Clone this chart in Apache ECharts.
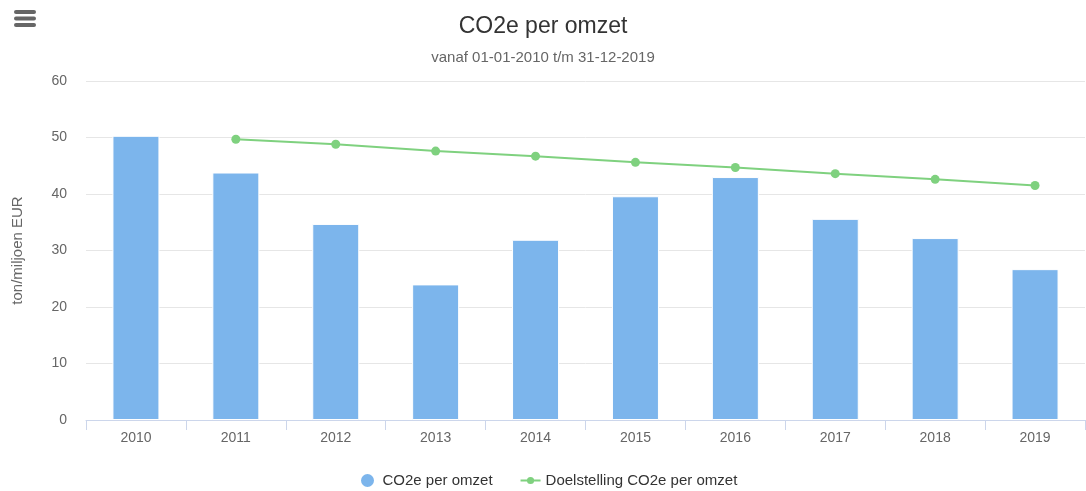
<!DOCTYPE html>
<html>
<head>
<meta charset="utf-8">
<script src="https://cdn.jsdelivr.net/npm/echarts@6/dist/echarts.min.js"></script>
<style>
html,body{margin:0;padding:0;background:#fff;}
#c{width:1086px;height:491px;}
</style>
</head>
<body>
<div id="c"></div>
<script>
const categories = ['2010','2011','2012','2013','2014','2015','2016','2017','2018','2019'];
const co2Values = [50.3, 43.8, 34.7, 24.0, 31.9, 39.6, 43.0, 35.6, 32.2, 26.7];
const targetValues = [null, 49.7, 48.8, 47.6, 46.7, 45.6, 44.7, 43.6, 42.6, 41.5];
const yTicks = [0, 10, 20, 30, 40, 50, 60];

const font = '"Liberation Sans", Arial, sans-serif';
const lineIcon = 'path://M0,0 L0.02,0 L0.02,0.02 Z M20,15 L19.98,15 L19.98,14.98 Z M0,6.6 L20,6.6 L20,8.4 L0,8.4 Z M6.4,7.5 A3.6,3.6 0 1,1 13.6,7.5 A3.6,3.6 0 1,1 6.4,7.5 Z';
const chart = echarts.init(document.getElementById('c'), null, {renderer: 'canvas'});
chart.setOption({
  animation: false,
  textStyle: {fontFamily: font},
  title: {
    text: 'CO2e per omzet',
    subtext: 'vanaf 01-01-2010 t/m 31-12-2019',
    left: 'center',
    top: 10,
    itemGap: 12,
    textStyle: {fontFamily: font, fontSize: 23, fontWeight: 'normal', color: '#333'},
    subtextStyle: {fontFamily: font, fontSize: 15, color: '#666'}
  },
  graphic: [
    {type: 'rect', left: 14, top: 10, shape: {width: 22, height: 4, r: 2}, style: {fill: '#666'}},
    {type: 'rect', left: 14, top: 16.5, shape: {width: 22, height: 4, r: 2}, style: {fill: '#666'}},
    {type: 'rect', left: 14, top: 23, shape: {width: 22, height: 4, r: 2}, style: {fill: '#666'}}
  ],
  legend: {
    top: 472,
    left: 359,
    itemGap: 28,
    itemWidth: 20,
    itemHeight: 15,
    padding: 0,
    textStyle: {fontFamily: font, fontSize: 15, color: '#333'},
    data: [
      {name: 'CO2e per omzet', icon: 'circle'},
      {name: 'Doelstelling CO2e per omzet', icon: lineIcon}
    ]
  },
  grid: {left: 86, right: 1, top: 81, bottom: 71, containLabel: false, outerBoundsMode: 'none'},
  xAxis: {
    type: 'category',
    data: categories,
    boundaryGap: true,
    axisLine: {lineStyle: {color: '#ccd6eb', width: 1}},
    axisTick: {show: true, length: 10, lineStyle: {color: '#ccd6eb'}},
    axisLabel: {color: '#666', fontSize: 14, fontFamily: font, margin: 11}
  },
  yAxis: {
    type: 'value',
    min: yTicks[0],
    max: yTicks[yTicks.length - 1],
    interval: 10,
    name: 'ton/miljoen EUR',
    nameLocation: 'middle',
    nameGap: 61,
    nameTextStyle: {color: '#666', fontSize: 15, fontFamily: font},
    axisLine: {show: false},
    axisTick: {show: false},
    axisLabel: {color: '#666', fontSize: 14, fontFamily: font, margin: 19},
    splitLine: {lineStyle: {color: '#e6e6e6', width: 1}}
  },
  series: [
    {
      name: 'CO2e per omzet',
      type: 'bar',
      data: co2Values,
      barWidth: 47,
      itemStyle: {color: '#7cb5ec', borderColor: '#fff', borderWidth: 1},
      emphasis: {disabled: true}
    },
    {
      name: 'Doelstelling CO2e per omzet',
      type: 'line',
      data: targetValues,
      symbol: 'circle',
      symbolSize: 9,
      lineStyle: {color: '#7fd17f', width: 2},
      itemStyle: {color: '#7fd17f'},
      emphasis: {disabled: true}
    }
  ]
});
</script>
</body>
</html>
